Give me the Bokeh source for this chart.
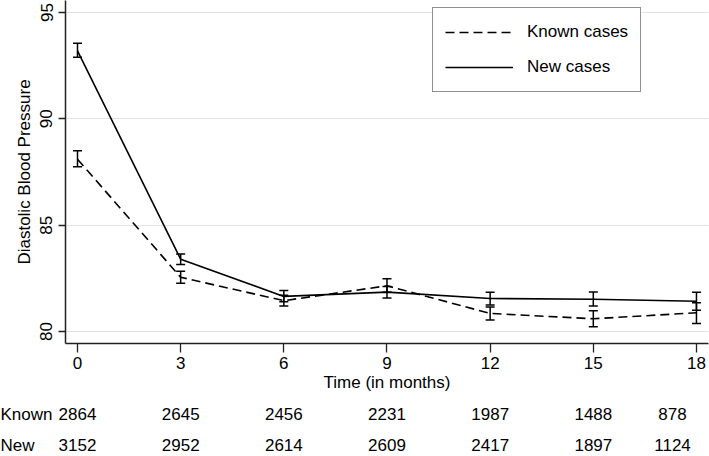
from bokeh.plotting import figure
from bokeh.layouts import column
from bokeh.models import (ColumnDataSource, Whisker, TeeHead, FixedTicker, Legend,
                          LegendItem, Label)
from bokeh.core.properties import value
from bokeh.embed import file_html
from bokeh.resources import INLINE

# ---- data ----
months = [0, 3, 6, 9, 12, 15, 18]
known_mean = [88.1, 82.55, 81.45, 82.15, 80.85, 80.6, 80.88]
known_lo = [87.75, 82.27, 81.2, 81.85, 80.54, 80.22, 80.38]
known_hi = [88.5, 82.83, 81.7, 82.48, 81.15, 80.98, 81.35]
new_mean = [93.2, 83.4, 81.65, 81.85, 81.55, 81.52, 81.42]
new_lo = [92.9, 83.15, 81.4, 81.57, 81.25, 81.2, 81.0]
new_hi = [93.55, 83.65, 81.93, 82.12, 81.84, 81.86, 81.84]
known_n = ["2864", "2645", "2456", "2231", "1987", "1488", "878"]
new_n = ["3152", "2952", "2614", "2609", "2417", "1897", "1124"]
y_ticks = [80, 85, 90, 95]
row_labels = ["Known", "New"]
row_pos = [1, 0]

FONT = "Liberation Sans"
FS = "17px"

p = figure(frame_width=643, frame_height=343,
           x_range=(-0.349, 18.35), y_range=(79.436, 95.564),
           output_backend="svg", toolbar_location=None,
           min_border_left=65, min_border_right=1, min_border_top=0,
           min_border_bottom=55)
p.frame_align = False
p.outline_line_color = None
p.background_fill_color = "white"
p.border_fill_color = "white"

# axes
p.xaxis.ticker = FixedTicker(ticks=months)
p.yaxis.ticker = FixedTicker(ticks=y_ticks)
for ax in (p.xaxis[0], p.yaxis[0]):
    ax.axis_line_color = "#222222"
    ax.axis_line_width = 1.5
    ax.major_tick_line_color = "#222222"
    ax.major_tick_line_width = 1.3
    ax.minor_tick_line_color = None
    ax.major_tick_in = 0
    ax.major_label_text_font = FONT
    ax.major_label_text_font_size = FS
    ax.major_label_text_color = "black"
    ax.axis_label_text_font = FONT
    ax.axis_label_text_font_style = "normal"
    ax.axis_label_text_color = "black"

p.xaxis.major_tick_out = 9
p.xaxis.major_label_standoff = 4
p.xaxis.axis_label = "Time (in months)"
p.xaxis.axis_label_text_font_size = "17px"
p.xaxis.axis_label_standoff = 1

p.yaxis.major_tick_out = 7
p.yaxis.major_label_standoff = 6
p.yaxis.major_label_orientation = "vertical"
p.yaxis.axis_label = "Diastolic Blood Pressure"
p.yaxis.axis_label_text_font_size = "17px"
p.yaxis.axis_label_standoff = 4

p.xgrid.grid_line_color = None
p.ygrid.grid_line_color = "#e3e3e3"
p.ygrid.grid_line_width = 1.2

src_k = ColumnDataSource(dict(x=months, y=known_mean, lo=known_lo, hi=known_hi, n=known_n))
src_n = ColumnDataSource(dict(x=months, y=new_mean, lo=new_lo, hi=new_hi, n=new_n))

lk = p.line("x", "y", source=src_k, line_color="black", line_width=1.6, line_dash="9 5")
ln = p.line("x", "y", source=src_n, line_color="black", line_width=1.6)

for src in (src_k, src_n):
    w = Whisker(base="x", lower="lo", upper="hi", source=src,
                line_color="black", line_width=1.5,
                lower_head=TeeHead(size=9, line_color="black", line_width=1.5),
                upper_head=TeeHead(size=9, line_color="black", line_width=1.5))
    p.add_layout(w)

legend = Legend(items=[LegendItem(label="Known cases", renderers=[lk]),
                       LegendItem(label="New cases", renderers=[ln])],
                location=(367, 251))
legend.label_text_font = FONT
legend.label_text_font_size = FS
legend.label_text_color = "black"
legend.glyph_width = 68
legend.glyph_height = 24
legend.label_height = 24
legend.label_standoff = 14
legend.spacing = 11
legend.padding = 12
legend.margin = 0
legend.border_line_color = "#222222"
legend.border_line_width = 1.5
legend.background_fill_alpha = 1.0
p.add_layout(legend, "center")

# ---- numbers-at-risk table (separate strip sharing the month scale) ----
t = figure(frame_width=709, frame_height=58,
           x_range=(-2.239, 18.377), y_range=(-0.355, 1.516),
           output_backend="svg", toolbar_location=None,
           min_border_left=0, min_border_right=0, min_border_top=0,
           min_border_bottom=0)
t.frame_align = False
t.axis.visible = False
t.grid.visible = False
t.outline_line_color = None
t.background_fill_color = "white"
t.border_fill_color = "white"

last_shift = [0, 0, 0, 0, 0, 0, -24]
for ns, yy, name in ((known_n, row_pos[0], row_labels[0]), (new_n, row_pos[1], row_labels[1])):
    s = ColumnDataSource(dict(x=months, y=[yy] * len(months), n=ns, dx=last_shift))
    t.text("x", "y", text="n", x_offset="dx", source=s, text_align="center",
           text_baseline="middle", text_font=value(FONT), text_font_size=value(FS),
           text_color="black")
    t.add_layout(Label(x=0, x_units="screen", y=yy, y_units="data", text=name,
                       text_align="left", text_baseline="middle", text_font=FONT,
                       text_font_size=FS, text_color="black"))

layout = column(p, t, spacing=0)
open("out.html", "w").write(file_html(layout, INLINE))
